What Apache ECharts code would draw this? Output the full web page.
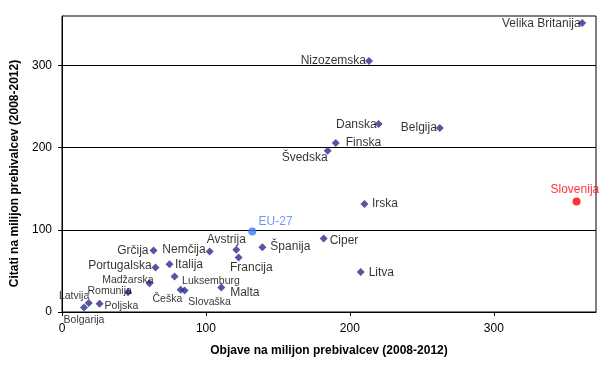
<!DOCTYPE html>
<html>
<head>
<meta charset="utf-8">
<script src="https://cdn.jsdelivr.net/npm/echarts@6/dist/echarts.min.js"></script>
<style>html,body{margin:0;padding:0;background:#fff}#c{width:612px;height:367px}</style>
</head>
<body>
<div id="c"></div>
<script>
// ---- data ----
var countries = ['Velika Britanija','Nizozemska','Danska','Belgija','Finska','Švedska','Irska','Slovenija','Ciper','Litva','EU-27','Avstrija','Španija','Francija','Nemčija','Grčija','Portugalska','Italija','Madžarska','Luksemburg','Češka','Slovaška','Malta','Romunija','Poljska','Latvija','Bolgarija'];
var publications = [361.4,213.3,220.0,262.5,190.2,184.6,210.1,357.5,181.8,207.5,132.2,121.1,139.2,122.7,102.6,63.6,65.0,74.7,60.8,78.2,82.4,85.2,110.7,45.9,26.1,18.6,15.3];
var citations    = [351.4,305.2,228.7,223.8,205.6,196.2,131.5,134.3,89.3,48.5,97.8,75.6,78.9,66.2,73.5,74.7,54.1,58.2,35.1,43.1,27.0,26.1,29.8,23.9,10.0,10.8,5.5];
var xTicks = [0,100,200,300];
var yTicks = [0,100,200,300];

// ---- label layout (style only) ----
var FONT = "'Liberation Sans', Arial, sans-serif";
var labelLayout = {
  'Velika Britanija': ['left',[2.5,1],12],
  'Nizozemska': ['left',[1,0],12],
  'Danska': ['left',[2,1],12],
  'Belgija': ['left',[1,0],12],
  'Finska': ['right',[6,0],12],
  'Švedska': ['left',[4,7],12],
  'Irska': ['right',[3.5,0],12],
  'Slovenija': ['top',[-1.7,-2],12],
  'Ciper': ['right',[2,2],12],
  'Litva': ['right',[4,1],12],
  'EU-27': ['right',[2.3,-10],12],
  'Avstrija': ['top',[-10,0],12],
  'Španija': ['right',[4,0],12],
  'Francija': ['bottom',[12.7,0],12],
  'Nemčija': ['left',[0,-1.5],12],
  'Grčija': ['left',[-1,0],12],
  'Portugalska': ['left',[0,-2],12],
  'Italija': ['right',[1.5,0.7],12],
  'Madžarska': ['left',[8,-3.3],10.5],
  'Luksemburg': ['right',[3.5,5],10.5],
  'Češka': ['bottom',[-13.2,0],10.5],
  'Slovaška': ['bottom',[25,2.5],10.5],
  'Malta': ['right',[4.8,5],12],
  'Romunija': ['left',[7.8,-1.3],10.5],
  'Poljska': ['right',[1,2.7],10.5],
  'Latvija': ['left',[4.5,-7.3],10.5],
  'Bolgarija': ['bottom',[0,3],10.5]
};
var special = {
  'Slovenija': {color:'#FF0000', symbol:'circle', size:8, labelColor:'#FF0000'},
  'EU-27': {color:'#3F7CF4', symbol:'circle', size:8, labelColor:'#4A80F0'}
};

var data = countries.map(function(n,i){
  var L = labelLayout[n];
  var s = special[n];
  return {
    name: n,
    value: [publications[i], citations[i]],
    symbol: s ? s.symbol : 'diamond',
    symbolSize: s ? s.size : 8,
    itemStyle: {color: s ? s.color : '#2B2B8F'},
    label: {show:true, formatter:n, position:L[0], offset:L[1], distance:0,
            fontSize:L[2], fontFamily:FONT, color: s ? s.labelColor : '#000'}
  };
});

var chart = echarts.init(document.getElementById('c'), null, {renderer:'canvas'});
chart.setOption({
  animation:false,
  backgroundColor:'#fff',
  grid:{left:62, right:16, top:16, bottom:55, show:true, borderColor:'#000', borderWidth:1, backgroundColor:'transparent'},
  xAxis:{
    type:'value', min:0, max:371, interval:100,
    name:'Objave na milijon prebivalcev (2008-2012)', nameLocation:'middle', nameGap:33,
    nameTextStyle:{fontFamily:FONT, fontSize:12, fontWeight:'bold', color:'#000'},
    axisLine:{show:true, onZero:false, lineStyle:{color:'#000', width:1}},
    axisTick:{show:true, inside:false, length:4, lineStyle:{color:'#000'}, customValues:xTicks},
    axisLabel:{fontFamily:FONT, fontSize:12, color:'#000', margin:11, customValues:xTicks},
    splitLine:{show:false}
  },
  yAxis:{
    type:'value', min:0, max:360, interval:100,
    name:'Citati na milijon prebivalcev (2008-2012)', nameLocation:'middle', nameGap:39,
    nameTextStyle:{fontFamily:FONT, fontSize:12, fontWeight:'bold', color:'#000', padding:[0,19,0,0]},
    axisLine:{show:true, onZero:false, lineStyle:{color:'#000', width:1}},
    axisTick:{show:true, inside:false, length:4, lineStyle:{color:'#000'}, customValues:yTicks},
    axisLabel:{fontFamily:FONT, fontSize:12, color:'#000', margin:10, customValues:yTicks},
    splitLine:{show:true, lineStyle:{color:'#000', width:1}}
  },
  series:[{
    type:'scatter',
    data:data
  }]
});
</script>
</body>
</html>
